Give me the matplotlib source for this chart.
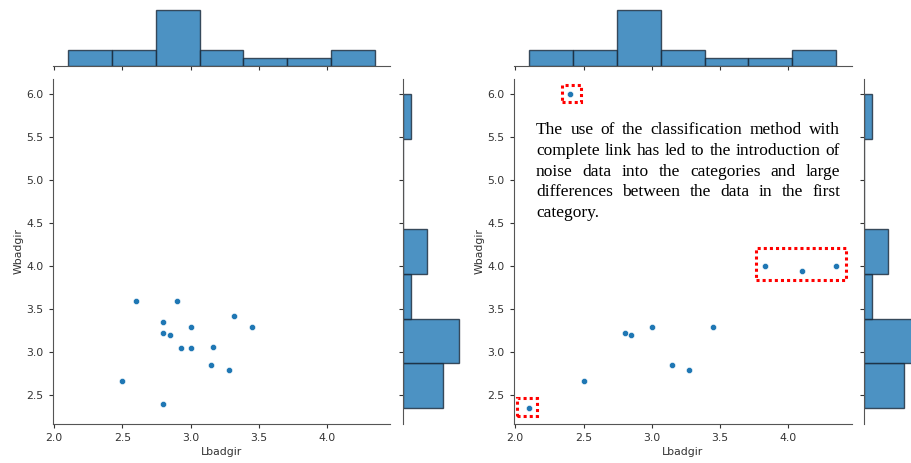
import numpy as np
import matplotlib.pyplot as plt
from matplotlib.patches import Rectangle

# scatter points, left panel
left_x = [2.6, 2.9, 2.8, 2.8, 2.85, 3.0, 3.32, 3.45, 2.93, 3.0, 3.16, 3.15, 3.28, 2.5, 2.8]
left_y = [3.6, 3.6, 3.35, 3.23, 3.2, 3.3, 3.42, 3.3, 3.05, 3.05, 3.06, 2.85, 2.8, 2.67, 2.4]

# scatter points, right panel
right_x = [2.1, 2.4, 2.5, 2.8, 2.85, 3.0, 3.15, 3.27, 3.45, 3.83, 4.1, 4.35]
right_y = [2.35, 6.0, 2.67, 3.23, 3.2, 3.3, 2.85, 2.8, 3.3, 4.0, 3.95, 4.0]

# marginal histogram counts (same in both panels)
top_counts = [2, 2, 7, 2, 1, 1, 2]
side_counts = [5, 7, 1, 3, 0, 0, 1]

x_ticks = [2.0, 2.5, 3.0, 3.5, 4.0]
y_ticks = [2.5, 3.0, 3.5, 4.0, 4.5, 5.0, 5.5, 6.0]

note_lines = ["The use of the classification method with",
              "complete link has led to the introduction of",
              "noise data into the categories and large",
              "differences between the data in the first",
              "category."]

W, H = 911, 463
blue = '#1f77b4'
spine_c = '#555555'

x_edges = np.linspace(min(right_x), max(right_x), len(top_counts) + 1)
y_edges = np.linspace(min(right_y), max(right_y), len(side_counts) + 1)
xr = max(right_x) - min(right_x)
yr = max(right_y) - min(right_y)
xlim = (min(right_x) - 0.05 * xr, max(right_x) + 0.05 * xr)
ylim = (min(right_y) - 0.05 * yr, max(right_y) + 0.05 * yr)

fig = plt.figure(figsize=(W / 100, H / 100), dpi=100)


def box(l, t, w, h):
    return [l / W, 1 - (t + h) / H, w / W, h / H]


def panel(x0, xs, ys):
    ax = fig.add_axes(box(x0, 78.5, 338, 345.5))
    axt = fig.add_axes(box(x0, 4, 338, 62), sharex=ax)
    axr = fig.add_axes(box(x0 + 350, 78.5, 60, 345.5), sharey=ax)

    ax.scatter(xs, ys, s=20, color=blue, edgecolor='white', linewidth=0.4, zorder=3)
    ax.set_xlim(*xlim)
    ax.set_ylim(*ylim)
    ax.set_xticks(x_ticks)
    ax.set_yticks(y_ticks)
    ax.set_xlabel('Lbadgir', fontsize=7.8, color='#333333', labelpad=3)
    ax.set_ylabel('Wbadgir', fontsize=7.8, color='#333333', labelpad=2)

    axt.bar(x_edges[:-1], top_counts, width=np.diff(x_edges), align='edge',
            color=blue, alpha=0.8, edgecolor='#1b2a3a', linewidth=1)
    axt.set_ylim(0, 7.7)
    axr.barh(y_edges[:-1], side_counts, height=np.diff(y_edges), align='edge',
             color=blue, alpha=0.8, edgecolor='#1b2a3a', linewidth=1)
    axr.set_xlim(0, 7.5)

    for a in (ax, axt, axr):
        for s in ('top', 'right'):
            a.spines[s].set_visible(False)
        for s in ('left', 'bottom'):
            a.spines[s].set_color(spine_c)
        a.tick_params(colors='#333333', labelsize=7.8, length=3, width=0.8)
    axt.spines['left'].set_visible(False)
    axt.tick_params(axis='x', labelbottom=False)
    axt.tick_params(axis='y', left=False, labelleft=False)
    axr.spines['bottom'].set_visible(False)
    axr.tick_params(axis='y', labelleft=False)
    axr.tick_params(axis='x', bottom=False, labelbottom=False)
    return ax


ax1 = panel(52.5, left_x, left_y)
ax2 = panel(513.6, right_x, right_y)

# dotted red boxes around the noise points in the right panel
marks = [(2.345, 5.91, 0.135, 0.195), (2.015, 2.26, 0.143, 0.21), (3.765, 3.845, 0.66, 0.37)]
for bx, by, bw, bh in marks:
    ax2.add_patch(Rectangle((bx, by), bw, bh, fill=False, edgecolor='red',
                            linestyle=(0, (1, 1)), linewidth=2.2, zorder=4))

# justified text block
fig.canvas.draw()
rend = fig.canvas.get_renderer()
fs = 12.5
left_px, right_px = 536, 840


def wwidth(w):
    t = fig.text(0, 0, w, family='Liberation Serif', fontsize=fs)
    v = t.get_window_extent(rend).width
    t.remove()
    return v


base = 134.3
for i, line in enumerate(note_lines):
    ln = line.split()
    widths = [wwidth(w) for w in ln]
    last = i == len(note_lines) - 1
    gap = 4 if last or len(ln) < 2 else (right_px - left_px - sum(widths)) / (len(ln) - 1)
    x = left_px
    for w, wd in zip(ln, widths):
        fig.text(x / W, 1 - (base + i * 20.6) / H, w, family='Liberation Serif',
                 fontsize=fs, va='baseline', ha='left', color='black')
        x += wd + gap

fig.savefig('out.png', dpi=100)
